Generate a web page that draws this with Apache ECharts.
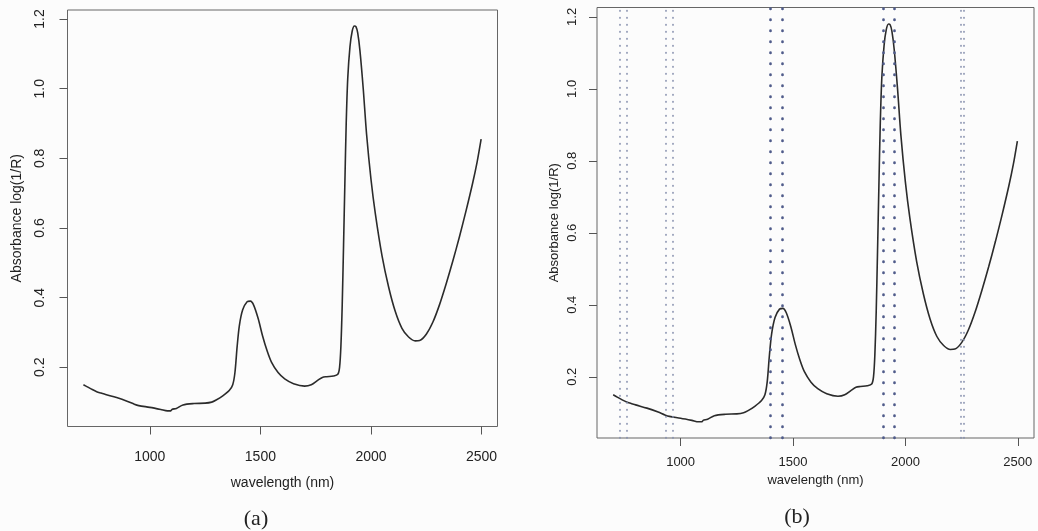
<!DOCTYPE html>
<html>
<head>
<meta charset="utf-8">
<script src="https://cdn.jsdelivr.net/npm/echarts@6/dist/echarts.min.js"></script>
<style>
  html, body { margin: 0; padding: 0; background: #fcfcfc; }
  #chart { width: 1038px; height: 531px; }
</style>
</head>
<body>
<div id="chart"></div>
<script>
// NIR spectrum: wavelength (nm) and absorbance log(1/R)
const wavelength = [
  700, 720, 740, 760, 780, 800, 850, 900, 930, 950,
  1000, 1050, 1080, 1095, 1100, 1120, 1150, 1200, 1250, 1280,
  1300, 1330, 1360, 1375, 1385, 1395, 1405, 1420, 1440, 1455,
  1470, 1490, 1510, 1530, 1550, 1580, 1610, 1650, 1700, 1730,
  1760, 1780, 1800, 1830, 1850, 1858, 1864, 1870, 1876, 1882,
  1888, 1895, 1905, 1915, 1925, 1932, 1940, 1950, 1965, 1980,
  2000, 2020, 2050, 2080, 2110, 2140, 2170, 2200, 2220, 2250,
  2280, 2310, 2340, 2370, 2400, 2430, 2460, 2480, 2498
];
const absorbance = [
  0.150, 0.143, 0.136, 0.130, 0.126, 0.122, 0.113, 0.102, 0.094, 0.090,
  0.085, 0.079, 0.075, 0.075, 0.079, 0.082, 0.092, 0.096, 0.097, 0.100,
  0.106, 0.118, 0.134, 0.150, 0.185, 0.260, 0.320, 0.365, 0.388, 0.390,
  0.378, 0.340, 0.290, 0.248, 0.215, 0.185, 0.167, 0.153, 0.146, 0.150,
  0.163, 0.171, 0.173, 0.175, 0.180, 0.200, 0.260, 0.380, 0.550, 0.730,
  0.900, 1.030, 1.120, 1.165, 1.180, 1.178, 1.160, 1.110, 1.000, 0.870,
  0.740, 0.640, 0.520, 0.430, 0.360, 0.312, 0.287, 0.276, 0.277, 0.295,
  0.330, 0.380, 0.440, 0.505, 0.575, 0.650, 0.730, 0.790, 0.855
];

// Axis tick labels
const xTicks = [1000, 1500, 2000, 2500];
const yTicks = [0.2, 0.4, 0.6, 0.8, 1.0, 1.2];

// Selected wavelengths marked in panel (b)
const minorBands = [730, 760, 935, 965, 2245, 2258];
const majorBands = [1400, 1450, 1900, 1950];

const spectrum = wavelength.map((w, i) => [w, absorbance[i]]);

const X_MIN = 628, X_MAX = 2572;
const Y_MIN = 0.03, Y_MAX = 1.226;
const SANS = 'Liberation Sans, Arial, sans-serif';

function xAxisFor(gridIndex, fontSize, margin, nameGap) {
  return {
    type: 'value', gridIndex, min: X_MIN, max: X_MAX,
    name: 'wavelength (nm)', nameLocation: 'middle', nameGap,
    nameTextStyle: { fontFamily: SANS, fontSize, color: '#222' },
    axisLine: { show: false },
    axisTick: { show: true, length: 8, customValues: xTicks, lineStyle: { color: '#555' } },
    axisLabel: {
      customValues: xTicks, margin, fontFamily: SANS, fontSize, color: '#222',
      formatter: v => String(v)
    },
    splitLine: { show: false }
  };
}

function yAxisFor(gridIndex, fontSize, margin, nameGap) {
  return {
    type: 'value', gridIndex, min: Y_MIN, max: Y_MAX,
    name: 'Absorbance log(1/R)', nameLocation: 'middle', nameGap, nameRotate: 90,
    nameTextStyle: { fontFamily: SANS, fontSize, color: '#222' },
    axisLine: { show: false },
    axisTick: { show: true, length: 8, customValues: yTicks, lineStyle: { color: '#555' } },
    axisLabel: {
      customValues: yTicks, rotate: 90, margin, fontFamily: SANS, fontSize, color: '#222',
      formatter: v => v.toFixed(1)
    },
    splitLine: { show: false }
  };
}

function bandLines(values, style) {
  return values.map(v => ({ xAxis: v, lineStyle: style }));
}

// Round-capped, nearly zero-length dashes give a column of dots
const minorStyle = { color: '#8790ae', width: 1.7, type: [0.3, 6.7], cap: 'round' };
const majorStyle = { color: '#4f5b8a', width: 2.7, type: [0.3, 10.7], cap: 'round' };

const option = {
  animation: false,
  backgroundColor: '#fcfcfc',
  grid: [
    { left: 67.5, top: 10, width: 430, height: 416.5, show: true, borderColor: '#666', borderWidth: 1, backgroundColor: 'transparent' },
    { left: 597, top: 7.5, width: 437, height: 430.5, show: true, borderColor: '#666', borderWidth: 1, backgroundColor: 'transparent' }
  ],
  xAxis: [ xAxisFor(0, 14, 24, 50), xAxisFor(1, 13, 18, 28) ],
  yAxis: [ yAxisFor(0, 14, 20, 43), yAxisFor(1, 13, 18, 36) ],
  title: [
    { text: '(a)', left: 251, top: 503, textAlign: 'center',
      textStyle: { fontFamily: 'Liberation Serif, serif', fontSize: 22, fontWeight: 'normal', color: '#222' } },
    { text: '(b)', left: 792, top: 501, textAlign: 'center',
      textStyle: { fontFamily: 'Liberation Serif, serif', fontSize: 22, fontWeight: 'normal', color: '#222' } }
  ],
  series: [
    {
      type: 'line', xAxisIndex: 0, yAxisIndex: 0, data: spectrum,
      showSymbol: false, smooth: 0.3, silent: true,
      lineStyle: { color: '#2b2b2b', width: 1.6 }
    },
    {
      type: 'line', xAxisIndex: 1, yAxisIndex: 1, data: spectrum,
      showSymbol: false, smooth: 0.3, silent: true,
      lineStyle: { color: '#2b2b2b', width: 1.6 },
      markLine: {
        silent: true, symbol: 'none', animation: false,
        label: { show: false },
        data: bandLines(minorBands, minorStyle).concat(bandLines(majorBands, majorStyle))
      }
    }
  ]
};

const chart = echarts.init(document.getElementById('chart'), null, { renderer: 'canvas' });
chart.setOption(option);
</script>
</body>
</html>
